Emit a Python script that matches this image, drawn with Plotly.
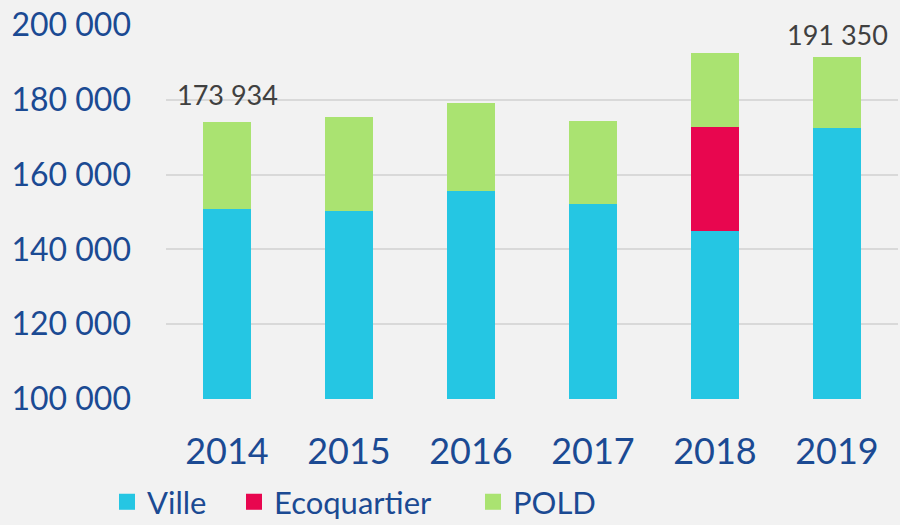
import plotly.graph_objects as go

years = ["2014", "2015", "2016", "2017", "2018", "2019"]
ville = [150700, 150300, 155500, 152100, 144800, 172500]
ecoquartier = [0, 0, 0, 0, 27800, 0]
pold = [23234, 25000, 23600, 22100, 20000, 18850]
labels = {"2014": "173 934", "2019": "191 350"}
series_names = ["Ville", "Ecoquartier", "POLD"]

colors = {"Ville": "#25C6E3", "Ecoquartier": "#E8064F", "POLD": "#AAE371"}
label_shift = {"2014": 9, "2019": 4}
legend_x_px = {"Ville": 107, "Ecoquartier": 234, "POLD": 473}
font_family = "Lato, 'Noto Sans', sans-serif"
blue = "#1B4A93"

fig = go.Figure()
for name, vals in zip(series_names, [ville, ecoquartier, pold]):
    fig.add_trace(go.Bar(x=years, y=vals, name=name, marker_color=colors[name],
                         marker_line_width=0, showlegend=False))

legend_layouts = {}
for k, name in enumerate(series_names):
    lg = "legend" if k == 0 else f"legend{k + 1}"
    fig.add_trace(go.Scatter(x=[years[0]], y=[None], mode="markers", name=name,
                             marker=dict(symbol="square", size=21, color=colors[name]),
                             showlegend=True, hoverinfo="skip", legend=lg))
    legend_layouts[lg] = dict(orientation="h", xref="container", yref="container",
                              x=legend_x_px[name] / 900, y=0.095,
                              xanchor="left", yanchor="top",
                              font=dict(size=31, color=blue, family=font_family),
                              itemsizing="trace", bgcolor="rgba(0,0,0,0)")

totals = [v + e + p for v, e, p in zip(ville, ecoquartier, pold)]
for i, (yr, tot) in enumerate(zip(years, totals)):
    if yr in labels:
        fig.add_annotation(x=i, y=tot, xref="x", yref="y", text=labels[yr],
                           showarrow=False, yanchor="bottom", yshift=label_shift[yr],
                           font=dict(size=27, color="#404040", family=font_family))

fig.update_layout(
    barmode="stack",
    bargap=0.6,
    width=900, height=525,
    margin=dict(l=166, r=2, t=25, b=126),
    paper_bgcolor="#F2F2F2",
    plot_bgcolor="#F2F2F2",
    separators=", ",
    font=dict(family=font_family, color=blue),
    xaxis=dict(type="category", categoryorder="array", categoryarray=years,
               range=[-0.5, len(years) - 0.5], autorange=False,
               showgrid=False, showline=False,
               tickfont=dict(size=36, color=blue), ticklabelstandoff=28),
    yaxis=dict(range=[100000, 200000], dtick=20000, tickformat=",d",
               gridcolor="#D9D9D9", gridwidth=1.5, zeroline=False,
               tickfont=dict(size=32, color=blue), ticklabelstandoff=34),
    **legend_layouts,
)

fig.write_html("out.html", config={"displayModeBar": False},
               post_script="document.body.style.margin='0';")
